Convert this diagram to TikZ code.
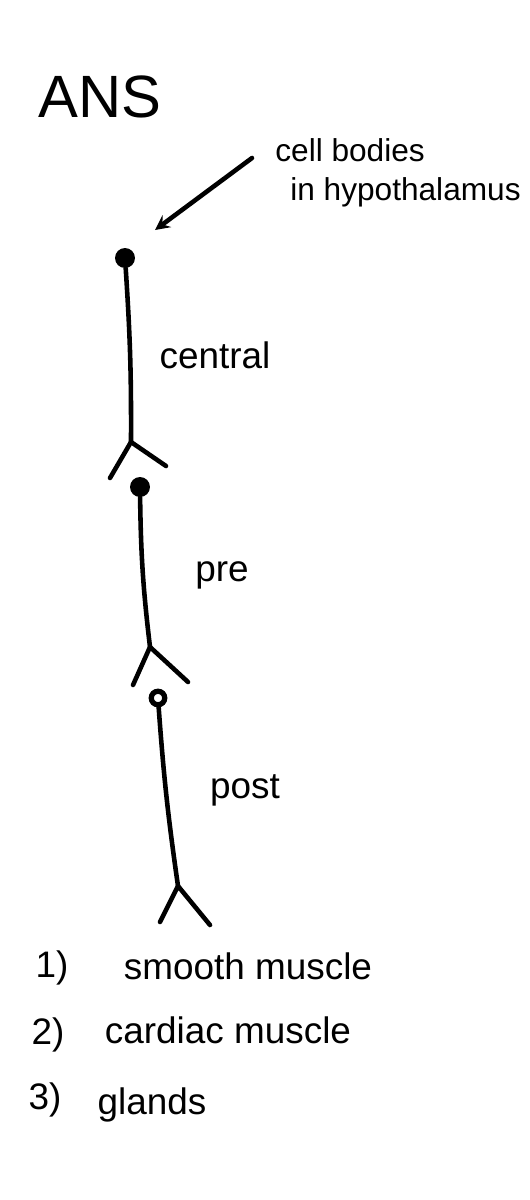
\documentclass[tikz,border=0pt]{standalone}
\usepackage{fontspec}
\setmainfont{Liberation Sans}
\usepackage{xcolor}
\usepackage{tikz}

\tikzset{
  ink/.style = {line width=2.6pt, line cap=round, line join=round},
  soma/.style = {circle, fill, inner sep=0pt, minimum size=0.4cm},
  words/.style = {font=\fontsize{21}{24}\selectfont, inner sep=0pt},
  note/.style = {font=\fontsize{18}{21}\selectfont, inner sep=0pt, anchor=west}
}

\begin{document}
\begin{tikzpicture}[x=0.02cm, y=-0.02cm]
        \fill[white] (0,0) rectangle (530,1200);
        \useasboundingbox (0,0) rectangle (530,1200);

        \node at (100, 97)[font=\fontsize{34}{38}\selectfont, inner sep=0pt](ans){ANS};
        \node at (275, 150)[note](cb1){cell bodies};
        \node at (290, 192)[note](cb2){in hypothalamus};
        \coordinate (a0) at (252, 158);
        \coordinate (a1) at (155, 230);
        \draw[ink, -stealth] (a0) -- (a1);

        % central neuron
        \node at (125, 258) [soma] (s1) {};
        \coordinate (f1) at (131, 442);
        \coordinate (l1) at (110, 478);
        \coordinate (r1) at (166, 466);
        \draw[ink] (s1) to[bend left=2] (f1);
        \draw[ink] (l1) -- (f1) -- (r1);
        \node at (215, 355)[words](central){central};

        % pre neuron
        \node at (140, 487) [soma] (s2) {};
        \coordinate (f2) at (150, 647);
        \coordinate (l2) at (133, 685);
        \coordinate (r2) at (188, 682);
        \draw[ink] (s2) to[bend right=3] (f2);
        \draw[ink] (l2) -- (f2) -- (r2);
        \node at (222, 575)[words](pre){pre};

        % post neuron
        \node at (158, 698) [circle, draw, fill=white, line width=3pt, inner sep=0pt, minimum size=0.27cm] (s3) {};
        \coordinate (f3) at (178, 886);
        \coordinate (l3) at (160, 922);
        \coordinate (r3) at (210, 925);
        \draw[ink] (s3) to[bend right=2] (f3);
        \draw[ink] (l3) -- (f3) -- (r3);
        \node at (245, 790)[words](post){post};

        % targets
        \node at (52, 968)[words](n1){1)};
        \node at (248, 966)[words](t1){smooth muscle};
        \node at (48, 1035)[words](n2){2)};
        \node at (228, 1030)[words](t2){cardiac muscle};
        \node at (45, 1100)[words](n3){3)};
        \node at (152, 1105)[words](t3){glands};
    \end{tikzpicture}
\end{document}
